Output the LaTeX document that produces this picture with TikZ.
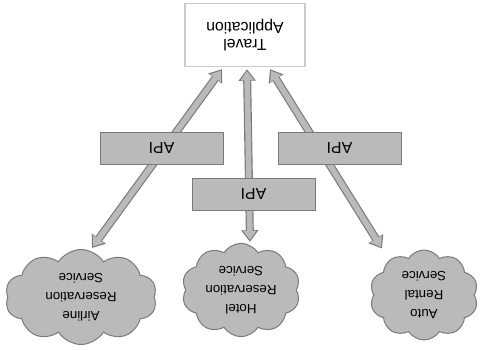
\documentclass[tikz,border=0pt]{standalone}
\usepackage{fontspec}
\setmainfont{Liberation Sans}
\usetikzlibrary{shapes.symbols,arrows.meta,calc}
\definecolor{grisnube}{HTML}{BABABA}
\definecolor{grisborde}{HTML}{7A7A7A}
\definecolor{grislinea}{HTML}{CACACA}
\begin{document}
\begin{tikzpicture}[x=0.6pt, y=0.6pt, rotate=180, transform shape,
    nube/.style={cloud, cloud puffs=10, cloud puff arc=115, draw=grisborde, fill=grisnube,
        line width=0.6pt, align=center, inner sep=-5pt, font=\fontsize{8}{11.5}\selectfont},
    api/.style={rectangle, draw=grisborde, fill=grisnube, line width=0.5pt,
        minimum width=73.8pt, minimum height=19.2pt, font=\fontsize{9.5}{11}\selectfont},
    caja/.style={rectangle, draw=grislinea, fill=white, line width=0.8pt, align=center,
        minimum width=72pt, minimum height=37.8pt, font=\fontsize{9.5}{10}\selectfont},
    flechaborde/.style={grisborde, line width=4.8pt,
        {Triangle[length=7pt,width=10pt]}-{Triangle[length=7pt,width=10pt]}},
    flecharelleno/.style={grisnube, line width=3.4pt, shorten <=1.1pt, shorten >=1.1pt,
        {Triangle[length=5.6pt,width=7.8pt]}-{Triangle[length=5.6pt,width=7.8pt]}}]
    \useasboundingbox (0,0) rectangle (482,349);
    %------------Aplicacion------------
    \node[caja] (app) at (237,35) {Travel\\Application};
    %------------Nubes-----------------
    \node[nube, minimum width=91pt, minimum height=57pt] (airline) at (401,297) {Airline\\Reservation\\Service};
    \node[nube, minimum width=71pt, minimum height=56pt] (hotel) at (241,290) {Hotel\\Reservation\\Service};
    \node[nube, minimum width=65pt, minimum height=54pt] (auto) at (58,295) {Auto\\Rental\\Service};
    %------------Flechas---------------
    \foreach \ini/\nube/\fin in {23/airline/-11, -2/hotel/-9, -25/auto/42} {
        \draw[flechaborde] ($(app.north)+(\ini,2)$) -- ($(\nube.south)+(\fin,-1)$);
        \draw[flecharelleno] ($(app.north)+(\ini,2)$) -- ($(\nube.south)+(\fin,-1)$);
    }
    %------------API-------------------
    \node[api] (apiA) at (320.5,148) {API};
    \node[api] (apiB) at (142.5,148) {API};
    \node[api] (apiC) at (228.5,194) {API};
\end{tikzpicture}
\end{document}
